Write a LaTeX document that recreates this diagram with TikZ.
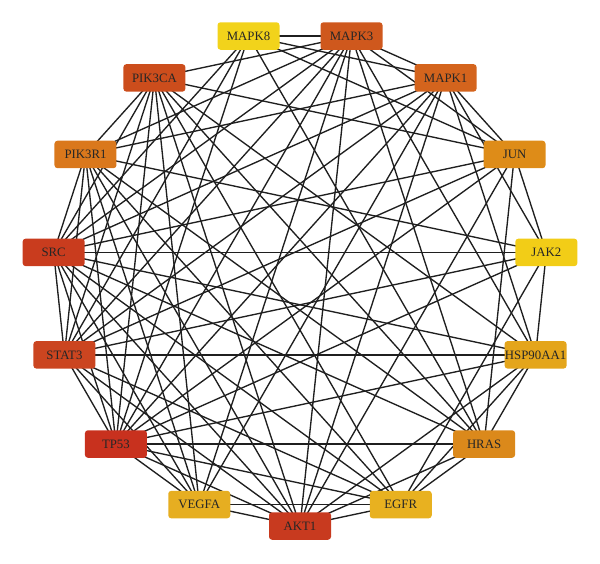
\documentclass[tikz,border=0pt]{standalone}
\usepackage{fontspec}
\setmainfont{Liberation Serif}
\usetikzlibrary{backgrounds}

\begin{document}
\begin{tikzpicture}[x=1pt,y=1pt,
  gene/.style={rectangle, rounded corners=3pt, minimum width=62, minimum height=27.5,
    inner sep=0pt, text=black!85, font=\fontsize{12.8}{14}\selectfont},
  link/.style={line width=1.35pt, black!88}]
\useasboundingbox (0,0) rectangle (600,563);
%Gene auf dem Kreis, alle 24 Grad
\begin{scope}[shift={(300,284.7)}]
\foreach \name/\ang/\col in {MAPK8/102/F2D31B, MAPK3/78/CF581D, MAPK1/54/D4641D,
    JUN/30/DE8C18, JAK2/6/F2CD17, HSP90AA1/-18/E4A51B, HRAS/-42/DB891B,
    EGFR/-66/E8B120, AKT1/-90/C83A1F, VEGFA/-114/E6AE21, TP53/-138/C8311E,
    STAT3/-162/CB4520, SRC/-186/C93C1E, PIK3R1/-210/DA781C, PIK3CA/-234/CC4D1C}{
  \definecolor{genefill}{HTML}{\col}
  \node[gene, fill=genefill] (\name) at (\ang:247.7) {\name};
}
\end{scope}
%Kanten
\begin{scope}[on background layer]
\foreach \a/\bs in {MAPK8/{MAPK3,MAPK1,JUN,HRAS,TP53,STAT3,SRC},
    MAPK3/{MAPK1,JUN,HSP90AA1,HRAS,AKT1,VEGFA,TP53,STAT3,SRC,PIK3R1,PIK3CA},
    MAPK1/{JUN,JAK2,HSP90AA1,AKT1,VEGFA,TP53,STAT3,SRC,PIK3R1},
    JUN/{JAK2,HRAS,AKT1,TP53,STAT3,SRC,PIK3CA},
    JAK2/{HSP90AA1,EGFR,TP53,STAT3,SRC,PIK3R1},
    HSP90AA1/{HRAS,EGFR,AKT1,TP53,STAT3,SRC,PIK3CA},
    HRAS/{EGFR,AKT1,TP53,SRC,PIK3R1,PIK3CA},
    EGFR/{AKT1,VEGFA,TP53,STAT3,SRC,PIK3R1,PIK3CA},
    AKT1/{VEGFA,TP53,STAT3,SRC,PIK3R1,PIK3CA},
    VEGFA/{TP53,STAT3,SRC,PIK3R1,PIK3CA},
    TP53/{STAT3,SRC,PIK3R1,PIK3CA},
    STAT3/{SRC,PIK3R1,PIK3CA},
    SRC/{PIK3R1,PIK3CA},
    PIK3R1/{PIK3CA}}{
  \foreach \b in \bs
    \draw[link] (\a.center) -- (\b.center);
}
\end{scope}
\end{tikzpicture}
\end{document}
